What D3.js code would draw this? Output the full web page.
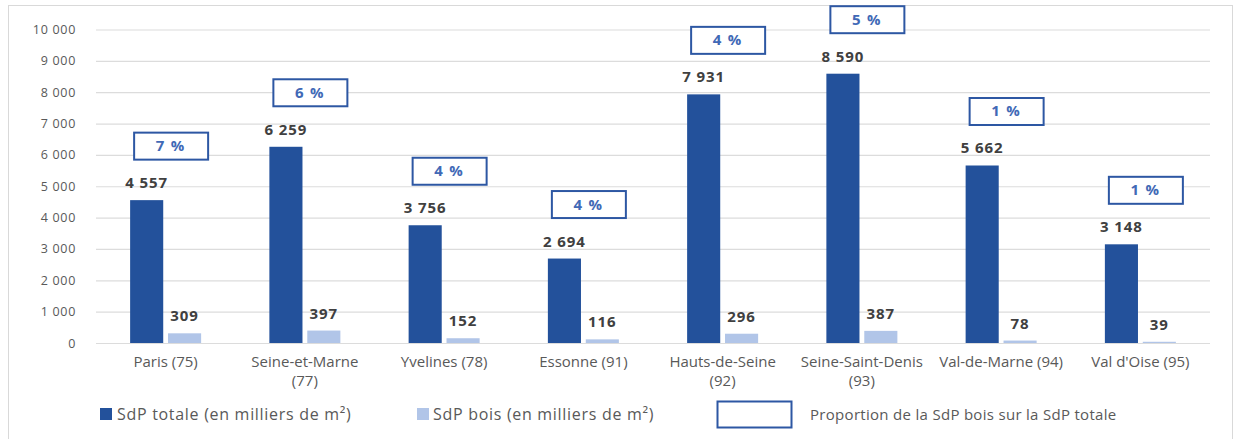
<!DOCTYPE html>
<html>
<head>
<meta charset="utf-8">
<script src="https://cdn.jsdelivr.net/npm/d3@7"></script>
<style>
  body { margin: 0; background: #fff; }
  svg { display: block; font-family: "Open Sans", sans-serif; }
</style>
</head>
<body>
<div id="chart"></div>
<script>
const categories = ['Paris (75)', 'Seine-et-Marne (77)', 'Yvelines (78)', 'Essonne (91)',
    'Hauts-de-Seine (92)', 'Seine-Saint-Denis (93)', 'Val-de-Marne (94)', "Val d'Oise (95)"]
const sdpTotale = [4557, 6259, 3756, 2694, 7931, 8590, 5662, 3148]
const sdpBois = [309, 397, 152, 116, 296, 387, 78, 39]
const proportion = [7, 6, 4, 4, 4, 5, 1, 1]
const yTicks = [0, 1000, 2000, 3000, 4000, 5000, 6000, 7000, 8000, 9000, 10000]
const seriesNames = ['SdP totale (en milliers de m²)', 'SdP bois (en milliers de m²)',
    'Proportion de la SdP bois sur la SdP totale']

const WIDTH = 1240
const HEIGHT = 439
const COLORS = {
    totale: '#23519b',
    bois: '#b1c5e8',
    box: '#2d57a3',
    boxText: '#4169b6',
    grid: '#dcdcdc',
    axisText: '#595959',
    valueText: '#404040'
}

const svg = d3.select('#chart')
    .append('svg')
    .attr('width', WIDTH)
    .attr('height', HEIGHT)

// chart frame
svg.append('rect')
    .attr('x', 8.5).attr('y', 5.5)
    .attr('width', 1224).attr('height', 460)
    .attr('fill', 'none')
    .attr('stroke', '#d9d9d9')

const x = d3.scaleBand()
    .domain(categories)
    .range([96, 1210])

const GROUP_W = 71
const x1 = d3.scaleBand()
    .domain(['totale', 'bois'])
    .range([0, GROUP_W])
    .paddingInner(9 / 71)

const y = d3.scaleLinear()
    .domain([0, 10000])
    .range([343, 29.5])

const fr = d3.formatLocale({ decimal: ',', thousands: ' ', grouping: [3], currency: ['', ' €'] })
const fmt = fr.format(',')

/**
 * Grid + y axis
 */
const yAxis = svg.append('g')
    .attr('transform', `translate(96,0)`)
    .call(d3.axisLeft(y).tickValues(yTicks).tickFormat(fmt).tickSize(-(1210 - 96)).tickPadding(20))
yAxis.select('.domain').remove()
yAxis.selectAll('.tick line').attr('stroke', COLORS.grid).attr('stroke-width', 1.2)
yAxis.selectAll('.tick text')
    .attr('fill', COLORS.axisText)
    .attr('font-size', 12.5)
    .attr('letter-spacing', 0.7)
    .attr('font-family', '"Open Sans", sans-serif')

/**
 * Bars
 */
const groups = svg.append('g')
    .selectAll('g')
    .data(categories)
    .join('g')
    .attr('transform', d => `translate(${x(d) + x.bandwidth() / 2 - GROUP_W / 2},0)`)

groups.append('rect')
    .attr('x', x1('totale'))
    .attr('width', x1.bandwidth())
    .attr('y', (d, i) => y(sdpTotale[i]))
    .attr('height', (d, i) => y(0) - y(sdpTotale[i]))
    .attr('fill', COLORS.totale)

groups.append('rect')
    .attr('x', x1('bois'))
    .attr('width', x1.bandwidth())
    .attr('y', (d, i) => y(sdpBois[i]))
    .attr('height', (d, i) => y(0) - y(sdpBois[i]))
    .attr('fill', COLORS.bois)

// value labels
groups.append('text')
    .attr('x', x1('totale') + x1.bandwidth() / 2)
    .attr('y', (d, i) => y(sdpTotale[i]) - 12)
    .attr('text-anchor', 'middle')
    .attr('font-size', 15)
    .attr('font-weight', 'bold')
    .attr('letter-spacing', 0.9)
    .attr('fill', COLORS.valueText)
    .text((d, i) => fmt(sdpTotale[i]))

groups.append('text')
    .attr('x', x1('bois') + x1.bandwidth() / 2)
    .attr('y', (d, i) => y(sdpBois[i]) - 12)
    .attr('text-anchor', 'middle')
    .attr('font-size', 15)
    .attr('font-weight', 'bold')
    .attr('letter-spacing', 0.9)
    .attr('fill', COLORS.valueText)
    .text((d, i) => fmt(sdpBois[i]))

/**
 * Proportion boxes
 */
const BOX_W = 74
const BOX_H = 27
const boxes = groups.append('g')
    .attr('transform', (d, i) => `translate(${GROUP_W / 2 + 5 - BOX_W / 2},${y(sdpTotale[i]) - 41 - BOX_H})`)
boxes.append('rect')
    .attr('x', 0.5).attr('y', 0.5)
    .attr('width', BOX_W).attr('height', BOX_H)
    .attr('fill', '#fff')
    .attr('stroke', COLORS.box)
    .attr('stroke-width', 2)
boxes.append('text')
    .attr('x', BOX_W / 2)
    .attr('y', BOX_H / 2 + 5.5)
    .attr('text-anchor', 'middle')
    .attr('font-size', 15)
    .attr('font-weight', 'bold')
    .attr('letter-spacing', 1.2)
    .attr('fill', COLORS.boxText)
    .text((d, i) => `${proportion[i]} %`)

/**
 * Category labels (wrapped like Excel)
 */
const catLabels = svg.append('g')
    .selectAll('text')
    .data(categories)
    .join('text')
    .attr('x', d => x(d) + x.bandwidth() / 2)
    .attr('y', 367)
    .attr('text-anchor', 'middle')
    .attr('font-size', 15)
    .attr('fill', COLORS.axisText)
    .text(d => d)

catLabels.each(function (d) {
    const el = d3.select(this)
    if (this.getComputedTextLength() > x.bandwidth() - 8) {
        const cut = d.lastIndexOf(' ')
        const cx = el.attr('x')
        el.text(null)
        el.append('tspan').attr('x', cx).text(d.slice(0, cut))
        el.append('tspan').attr('x', cx).attr('dy', 19).text(d.slice(cut + 1))
    }
})

/**
 * Legend
 */
const legend = svg.append('g')
legend.append('rect').attr('x', 100).attr('y', 408).attr('width', 12).attr('height', 12).attr('fill', COLORS.totale)
legend.append('text').attr('x', 117).attr('y', 420).attr('font-size', 16).attr('letter-spacing', 0.7)
    .attr('fill', COLORS.axisText).text(seriesNames[0])
legend.append('rect').attr('x', 417).attr('y', 408).attr('width', 12).attr('height', 12).attr('fill', COLORS.bois)
legend.append('text').attr('x', 433).attr('y', 420).attr('font-size', 16).attr('letter-spacing', 0.7)
    .attr('fill', COLORS.axisText).text(seriesNames[1])
legend.append('rect').attr('x', 717.5).attr('y', 401.5).attr('width', 74).attr('height', 26)
    .attr('fill', '#fff').attr('stroke', COLORS.box).attr('stroke-width', 2)
legend.append('text').attr('x', 810).attr('y', 420).attr('font-size', 15).attr('letter-spacing', 0.3)
    .attr('fill', COLORS.axisText).text(seriesNames[2])
</script>
</body>
</html>
